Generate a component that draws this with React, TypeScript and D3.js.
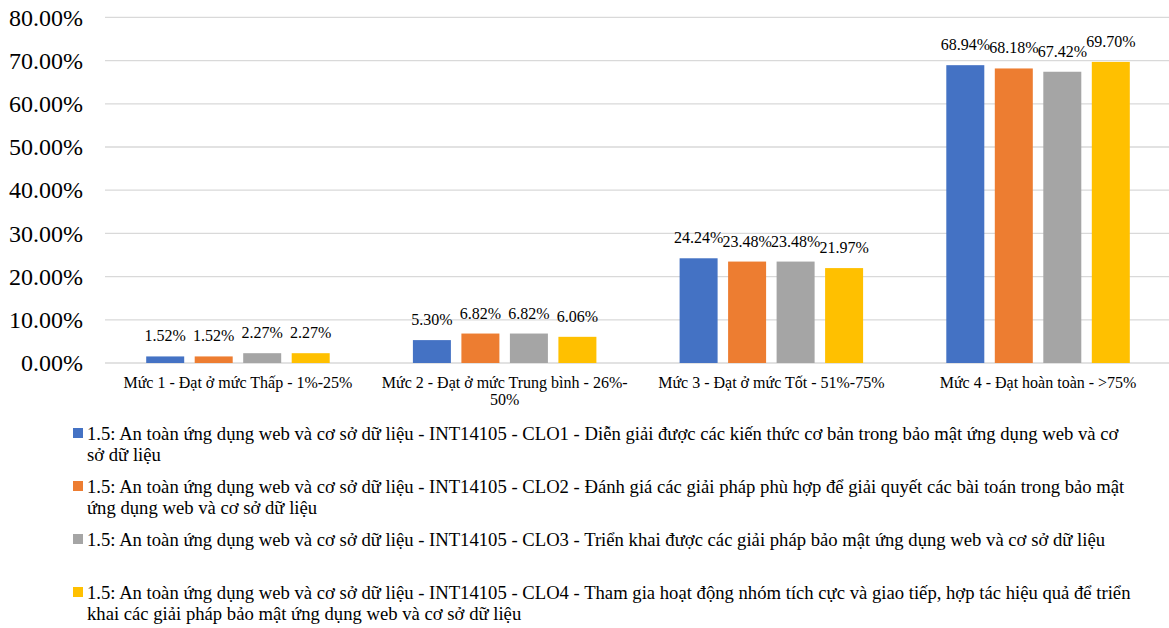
import { useEffect, useRef } from "react";
import * as d3 from "d3";

// categories (x axis)
const categories = [
  "Mức 1 - Đạt ở mức Thấp - 1%-25%",
  "Mức 2 - Đạt ở mức Trung bình - 26%-50%",
  "Mức 3 - Đạt ở mức Tốt - 51%-75%",
  "Mức 4 - Đạt hoàn toàn - >75%",
];

// series names (legend)
const seriesNames = [
  "1.5: An toàn ứng dụng web và cơ sở dữ liệu - INT14105 - CLO1 - Diễn giải được các kiến thức cơ bản trong bảo mật ứng dụng web và cơ sở dữ liệu",
  "1.5: An toàn ứng dụng web và cơ sở dữ liệu - INT14105 - CLO2 - Đánh giá các giải pháp phù hợp để giải quyết các bài toán trong bảo mật ứng dụng web và cơ sở dữ liệu",
  "1.5: An toàn ứng dụng web và cơ sở dữ liệu - INT14105 - CLO3 - Triển khai được các giải pháp bảo mật ứng dụng web và cơ sở dữ liệu",
  "1.5: An toàn ứng dụng web và cơ sở dữ liệu - INT14105 - CLO4 - Tham gia hoạt động nhóm tích cực và giao tiếp, hợp tác hiệu quả để triển khai các giải pháp bảo mật ứng dụng web và cơ sở dữ liệu",
];

// values in percent, one array per series
const clo1 = [1.52, 5.3, 24.24, 68.94];
const clo2 = [1.52, 6.82, 23.48, 68.18];
const clo3 = [2.27, 6.82, 23.48, 67.42];
const clo4 = [2.27, 6.06, 21.97, 69.7];
const seriesValues = [clo1, clo2, clo3, clo4];

const colors = ["#4472C4", "#ED7D31", "#A5A5A5", "#FFC000"];
const yTicks = [0, 10, 20, 30, 40, 50, 60, 70, 80];

const FONT = "Liberation Serif";

export default function App() {
  const svgRef = useRef<SVGSVGElement | null>(null);

  useEffect(() => {
    if (!svgRef.current) return;
    const width = 1169;
    const height = 628;

    const svg = d3.select(svgRef.current);
    svg.selectAll("*").remove();

    const x0 = d3.scaleBand<number>().domain(d3.range(categories.length)).range([104.6, 1171.4]);
    const step = 48.5;
    const barW = 38;
    const y = d3.scaleLinear().domain([0, 80]).range([363, 17.4]);

    // gridlines
    svg
      .append("g")
      .selectAll("line")
      .data(yTicks)
      .join("line")
      .attr("x1", 105)
      .attr("x2", width)
      .attr("y1", (d) => y(d))
      .attr("y2", (d) => y(d))
      .attr("stroke", "#D9D9D9")
      .attr("stroke-width", 1.3);

    // y tick labels
    svg
      .append("g")
      .selectAll("text")
      .data(yTicks)
      .join("text")
      .attr("x", 83)
      .attr("y", (d) => y(d))
      .attr("dy", "0.34em")
      .attr("text-anchor", "end")
      .attr("font-family", FONT)
      .attr("font-size", 24)
      .attr("fill", "#000")
      .text((d) => d.toFixed(2) + "%");

    // bars + labels
    seriesValues.forEach((vals, s) => {
      const g = svg.append("g");
      const xs = (i: number) =>
        x0(i)! + x0.bandwidth() / 2 - (step * 3 + barW) / 2 + s * step;
      g.selectAll("rect")
        .data(vals)
        .join("rect")
        .attr("x", (_, i) => xs(i))
        .attr("width", barW)
        .attr("y", (d) => y(d))
        .attr("height", (d) => y(0) - y(d))
        .attr("fill", colors[s]);
      g.selectAll("text")
        .data(vals)
        .join("text")
        .attr("x", (_, i) => xs(i) + barW / 2)
        .attr("y", (d) => y(d) - 15)
        .attr("text-anchor", "middle")
        .attr("font-family", FONT)
        .attr("font-size", 16)
        .attr("fill", "#000")
        .text((d) => d.toFixed(2) + "%");
    });

    // wrap helper: splits on spaces, also allows break after "-"
    const wrap = (
      parent: d3.Selection<SVGTextElement, unknown, null, undefined>,
      text: string,
      maxW: number,
      splitHyphen: boolean
    ) => {
      const tokens = splitHyphen
        ? text.split(" ").flatMap((w, i, arr) => {
            const parts = w.match(/[^-]+-?|-/g) || [w];
            return parts.map((p, j) => (j === parts.length - 1 && i < arr.length - 1 ? p + " " : p));
          })
        : text.split(" ").map((w, i, arr) => (i < arr.length - 1 ? w + " " : w));
      const lines: string[] = [];
      let cur = "";
      const probe = parent.append("tspan");
      tokens.forEach((t) => {
        const trial = cur + t;
        probe.text(trial.trimEnd());
        if (cur && (probe.node() as SVGTextContentElement).getComputedTextLength() > maxW) {
          lines.push(cur.trimEnd());
          cur = t;
        } else cur = trial;
      });
      lines.push(cur.trimEnd());
      probe.remove();
      return lines;
    };

    // category labels
    categories.forEach((c, i) => {
      const t = svg
        .append("text")
        .attr("font-family", FONT)
        .attr("font-size", 16)
        .attr("fill", "#000")
        .attr("text-anchor", "middle");
      const cx = x0(i)! + x0.bandwidth() / 2;
      const lines = wrap(t, c, 250, true);
      lines.forEach((l, k) => {
        t.append("tspan").attr("x", cx).attr("y", 388 + k * 17).text(l);
      });
    });

    // legend
    seriesNames.forEach((name, s) => {
      const by = 440 + s * 53;
      svg
        .append("rect")
        .attr("x", 73)
        .attr("y", by - 12)
        .attr("width", 10)
        .attr("height", 10)
        .attr("fill", colors[s]);
      const t = svg
        .append("text")
        .attr("font-family", FONT)
        .attr("font-size", 18.67)
        .attr("fill", "#000");
      const lines = wrap(t, name, 1048, false);
      lines.forEach((l, k) => {
        t.append("tspan").attr("x", 87).attr("y", by + k * 20.5).text(l);
      });
    });

    svg.attr("viewBox", `0 0 ${width} ${height}`);
  }, []);

  return (
    <svg
      ref={svgRef}
      width={1169}
      height={628}
      fontFamily={FONT}
      style={{ position: "absolute", left: 0, top: 0, background: "#fff" }}
    />
  );
}
